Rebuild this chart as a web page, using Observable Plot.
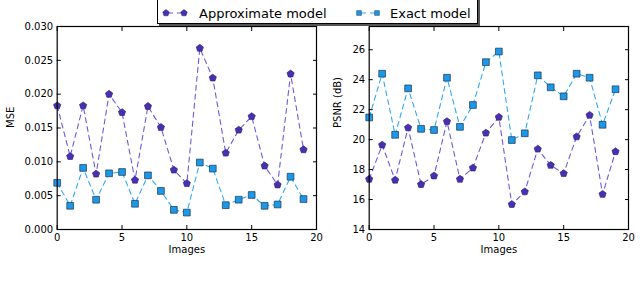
<!DOCTYPE html>
<html>
<head>
<meta charset="utf-8">
<script src="https://cdn.jsdelivr.net/npm/d3@7"></script>
<script src="https://cdn.jsdelivr.net/npm/@observablehq/plot@0.6"></script>
<style>
  html, body { margin: 0; padding: 0; background: #fff; }
  #wrap { position: relative; width: 640px; height: 285px; overflow: hidden; font-family: "DejaVu Sans", sans-serif; }
  .panel { position: absolute; top: 0; }
  .panel svg { overflow: visible; }
  #legend { position: absolute; left: 157px; top: -2px; width: 319px; height: 24px; border: 1px solid #000; background: #fff; box-shadow: 2px 2px 0 #555; }
</style>
</head>
<body>
<div id="wrap">
  <div class="panel" id="left" style="left:0px"></div>
  <div class="panel" id="right" style="left:320px"></div>
  <div id="legend"></div>
</div>
<script>
const images = d3.range(20);
const approxMSE = [0.0183,0.0108,0.0183,0.0082,0.0200,0.0173,0.0073,0.0182,0.0151,0.0088,0.0068,0.0268,0.0224,0.0113,0.0147,0.0167,0.0094,0.0066,0.0230,0.0118];
const exactMSE  = [0.0069,0.0035,0.0091,0.0044,0.0083,0.0085,0.0038,0.0080,0.0057,0.0029,0.0025,0.0099,0.0090,0.0036,0.0044,0.0051,0.0035,0.0037,0.0078,0.0045];
const approxPSNR = [17.36,19.64,17.30,20.79,17.01,17.58,21.21,17.36,18.11,20.44,21.50,15.68,16.52,19.37,18.29,17.74,20.19,21.63,16.35,19.20];
const exactPSNR  = [21.48,24.40,20.32,23.42,20.72,20.64,24.13,20.85,22.31,25.17,25.88,19.97,20.42,24.29,23.49,22.89,24.40,24.13,20.99,23.36];
const xTicks = [0,5,10,15,20];
const mseTicks = [0,0.005,0.010,0.015,0.020,0.025,0.030];
const psnrTicks = [14,16,18,20,22,24,26];
const seriesNames = ["Approximate model","Exact model"];

const approxLine = "#6b5bdc", approxFill = "#4a30b0", approxEdge = "#2a1a70";
const exactLine = "#33a8f0", exactFill = "#1c98e8", exactEdge = "#1a3550";

const pentagon = {
  draw(context, size) {
    const r = Math.sqrt(size / Math.PI) * 1.15;
    for (let k = 0; k < 5; k++) {
      const a = -Math.PI / 2 + k * 2 * Math.PI / 5;
      const px = r * Math.cos(a), py = r * Math.sin(a);
      if (k === 0) context.moveTo(px, py); else context.lineTo(px, py);
    }
    context.closePath();
  }
};

function panel({approx, exact, yDomain, yTicks, yFormat, ylabel, ylabelDx, marginLeft, marginRight}) {
  const A = images.map(i => ({x: i, y: approx[i]}));
  const E = images.map(i => ({x: i, y: exact[i]}));
  return Plot.plot({
    width: 320,
    height: 285,
    marginLeft, marginRight,
    marginTop: 26,
    marginBottom: 56,
    style: {fontFamily: "DejaVu Sans, sans-serif", fontSize: "10px", color: "#000", background: "transparent", overflow: "visible"},
    x: {domain: [0, 20]},
    y: {domain: yDomain},
    marks: [
      Plot.line(E, {x: "x", y: "y", stroke: exactLine, strokeWidth: 1.1, strokeDasharray: "5,4"}),
      Plot.line(A, {x: "x", y: "y", stroke: approxLine, strokeWidth: 1.1, strokeDasharray: "5,4"}),
      Plot.dot(E, {x: "x", y: "y", symbol: "square", r: 3.8, fill: exactFill, stroke: exactEdge, strokeWidth: 0.7}),
      Plot.dot(A, {x: "x", y: "y", symbol: pentagon, r: 3.3, fill: approxFill, stroke: approxEdge, strokeWidth: 0.6}),
      Plot.frame({stroke: "#000", strokeWidth: 1.2}),
      Plot.axisX({ticks: xTicks, tickSize: -4, tickPadding: 8.5, label: null, tickFormat: d3.format("d")}),
      Plot.axisX({anchor: "top", ticks: xTicks, tickSize: -4, fill: "none", label: null}),
      Plot.axisY({ticks: yTicks, tickSize: -4, tickPadding: 8, label: null, tickFormat: yFormat}),
      Plot.axisY({anchor: "right", ticks: yTicks, tickSize: -4, fill: "none", label: null}),
      Plot.text(["Images"], {frameAnchor: "bottom", dy: 23, fontSize: 10, fill: "#000"}),
      Plot.text([ylabel], {frameAnchor: "left", dx: ylabelDx, rotate: -90, fontSize: 10, fill: "#000"})
    ]
  });
}

document.getElementById("left").appendChild(panel({
  approx: approxMSE, exact: exactMSE, yDomain: [0, 0.030], yTicks: mseTicks,
  yFormat: d3.format(".3f"), ylabel: "MSE", ylabelDx: -46, marginLeft: 56.7, marginRight: 4
}));
document.getElementById("right").appendChild(panel({
  approx: approxPSNR, exact: exactPSNR, yDomain: [14, 27.55], yTicks: psnrTicks,
  yFormat: d3.format("d"), ylabel: "PSNR (dB)", ylabelDx: -31, marginLeft: 48.7, marginRight: 12
}));

// legend
const lg = d3.select("#legend").append("svg").attr("width", 319).attr("height", 24);
const entries = [
  {name: seriesNames[0], x0: 8, line: approxLine, fill: approxFill, edge: approxEdge, sym: d3.symbol(pentagon, 28), tx: 41},
  {name: seriesNames[1], x0: 201, line: exactLine, fill: exactFill, edge: exactEdge, sym: d3.symbol(d3.symbolSquare, 22), tx: 232}
];
for (const e of entries) {
  const g = lg.append("g");
  g.append("line").attr("x1", e.x0).attr("x2", e.x0 + 18).attr("y1", 14).attr("y2", 14)
    .attr("stroke", e.line).attr("stroke-width", 1.1).attr("stroke-dasharray", "5,4").attr("stroke-dashoffset", -2);
  for (const dx of [0, 18]) {
    g.append("path").attr("d", e.sym()).attr("transform", `translate(${e.x0 + dx},14)`)
      .attr("fill", e.fill).attr("stroke", e.edge).attr("stroke-width", 0.5);
  }
  g.append("text").attr("x", e.tx).attr("y", 14).attr("dy", "0.35em")
    .attr("font-family", "DejaVu Sans, sans-serif").attr("font-size", 13).attr("fill", "#000").text(e.name);
}
</script>
</body>
</html>
